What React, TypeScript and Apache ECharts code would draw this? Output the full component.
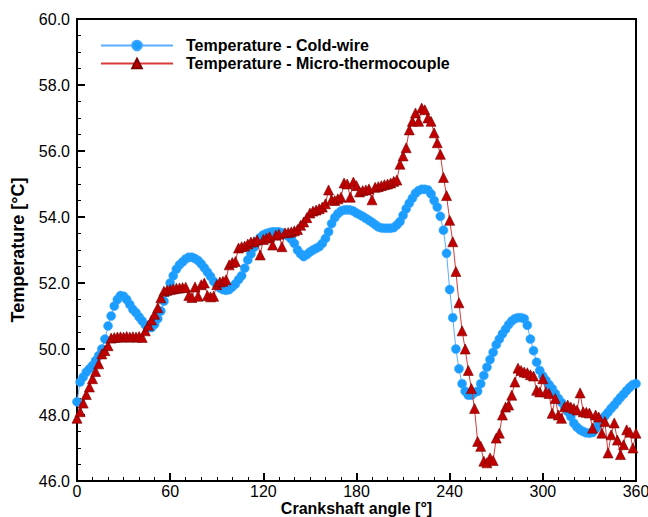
import React, { useEffect, useRef } from "react";
import * as echarts from "echarts";

const ANGLE_STEP = 2;
const xTicks = [0, 60, 120, 180, 240, 300, 360];
const yTicks = [46, 48, 50, 52, 54, 56, 58, 60];

const coldWire = [
  48.4, 49.0, 49.15, 49.3, 49.4, 49.5, 49.65, 49.8, 50.0, 50.3,
  50.7, 51.0, 51.3, 51.5, 51.62, 51.6, 51.5, 51.35, 51.2, 51.1,
  50.97, 50.85, 50.73, 50.65, 50.65, 50.75, 50.92, 51.15, 51.45, 51.72,
  52.0, 52.22, 52.42, 52.55, 52.64, 52.73, 52.78, 52.78, 52.74, 52.68,
  52.58, 52.46, 52.33, 52.2, 52.05, 51.95, 51.85, 51.8, 51.78, 51.8,
  51.88, 51.97, 52.1, 52.22, 52.45, 52.7, 52.88, 53.08, 53.25, 53.38,
  53.46, 53.5, 53.53, 53.55, 53.55, 53.55, 53.52, 53.47, 53.42, 53.33,
  53.2, 53.0, 52.88, 52.8, 52.86, 52.94, 53.0, 53.05, 53.1, 53.2,
  53.35, 53.55, 53.8, 53.98, 54.1, 54.18, 54.21, 54.22, 54.21, 54.18,
  54.12, 54.07, 54.02, 53.96, 53.9, 53.84, 53.77, 53.7, 53.67, 53.66,
  53.66, 53.66, 53.68, 53.76, 53.86, 54.05, 54.25, 54.42, 54.57, 54.72,
  54.8, 54.84, 54.84, 54.82, 54.7, 54.5, 54.3, 54.02, 53.6, 52.9,
  51.8, 50.95, 50.0, 49.4, 48.95, 48.72, 48.6, 48.6, 48.68, 48.72,
  48.95, 49.2, 49.45, 49.68, 49.9, 50.13, 50.3, 50.46, 50.6, 50.74,
  50.85, 50.92, 50.95, 50.95, 50.92, 50.72, 50.3, 49.95, 49.6, 49.35,
  49.18, 49.05, 48.92, 48.8, 48.65, 48.5, 48.38, 48.25, 48.1, 47.95,
  47.75, 47.63, 47.55, 47.5, 47.46, 47.45, 47.47, 47.58, 47.72, 47.86,
  47.97, 48.08, 48.2, 48.3, 48.42, 48.53, 48.63, 48.74, 48.84, 48.92,
  48.95,
];

const microTc = [
  47.9, 48.1, 48.36, 48.62, 48.85, 49.1, 49.32, 49.55, 49.85, 49.95,
  50.1, 50.33, 50.35, 50.36, 50.37, 50.36, 50.38, 50.36, 50.37, 50.36,
  50.38, 50.35, 50.55, 50.72, 50.88, 51.05, 51.25, 51.55, 51.75, 51.78,
  51.8, 51.82, 51.84, 51.85, 51.86, 51.87, 51.62, 51.56, 51.88, 51.6,
  51.95, 52.0, 51.62, 51.58, 51.6, 51.95, 52.03, 52.05, 52.1, 52.55,
  52.62, 52.65, 53.06, 53.1, 53.12, 53.18, 53.24, 53.25, 53.3, 52.85,
  53.32, 53.36, 53.4, 53.15, 53.45, 53.48, 53.1, 53.52, 53.53, 53.55,
  53.58, 53.62, 53.75, 53.85, 53.98, 54.12, 54.18, 54.21, 54.25, 54.3,
  54.4, 54.82, 54.52, 54.5, 54.55, 54.6, 55.03, 55.0, 54.6, 55.06,
  54.95, 54.76, 54.8, 54.82, 54.85, 54.52, 54.9, 54.92, 54.95, 54.98,
  55.0, 55.03, 55.08, 55.12, 55.6, 55.85, 56.1, 56.64, 56.9, 57.15,
  56.9, 57.3, 57.25, 57.0, 56.9, 56.55, 56.25, 55.9, 55.2, 54.65,
  53.9, 53.25, 52.35, 51.4, 50.55, 50.0, 49.35, 48.8, 48.2, 47.2,
  47.05, 46.6, 46.55, 46.7, 46.62, 47.3, 47.45, 48.0, 48.24, 48.3,
  48.6, 49.0, 49.42, 49.35, 49.3, 49.28, 49.22, 49.18, 48.75, 48.7,
  49.1, 48.7, 48.65, 48.05, 48.5, 48.0, 47.9, 48.25, 48.3, 48.24,
  48.2, 48.15, 48.67, 48.1, 48.08, 48.06, 47.6, 48.0, 47.94, 47.45,
  47.8, 46.85, 47.4, 47.76, 47.24, 46.8, 47.1, 47.55, 47.48, 47.0,
  47.45,
];

const FONT = "'Liberation Sans', Arial, sans-serif";

export default function App() {
  const ref = useRef<HTMLDivElement>(null);
  useEffect(() => {
    if (!ref.current) return;
    const chart = echarts.init(ref.current, undefined, { renderer: "svg" });
    const blueData = coldWire.map((v, i) => [i * ANGLE_STEP, v]);
    const redData = microTc.map((v, i) => [i * ANGLE_STEP, v]);
    chart.setOption({
      animation: false,
      backgroundColor: "#fff",
      textStyle: { fontFamily: FONT },
      grid: {
        left: 77,
        right: 12,
        top: 19,
        bottom: 36,
        show: true,
        borderColor: "#000",
        borderWidth: 2,
        backgroundColor: "transparent",
        outerBoundsMode: "none",
        containLabel: false,
      },
      legend: {
        left: 95,
        top: 32,
        orient: "vertical",
        itemWidth: 72,
        itemHeight: 12,
        itemGap: 1,
        data: ["Temperature - Cold-wire", "Temperature - Micro-thermocouple"],
        textStyle: {
          fontFamily: FONT,
          fontSize: 16,
          lineHeight: 17,
          fontWeight: "bold",
          color: "#000",
          padding: [0, 0, 0, 8],
        },
      },
      xAxis: {
        type: "value",
        min: 0,
        max: 360,
        interval: 60,
        name: "Crankshaft angle [°]",
        nameLocation: "middle",
        nameGap: 19,
        nameMoveOverlap: false,
        nameTextStyle: { fontFamily: FONT, fontSize: 16, lineHeight: 16, fontWeight: "bold", color: "#000" },
        axisLine: { show: true, lineStyle: { color: "#000", width: 2 } },
        axisTick: { show: true, inside: true, length: 8, lineStyle: { color: "#000", width: 2 } },
        minorTick: { show: true, splitNumber: 6, length: 4, lineStyle: { color: "#000", width: 1 } },
        axisLabel: {
          color: "#000",
          fontSize: 16,
          lineHeight: 16,
          fontFamily: FONT,
          margin: 2,
          formatter: (v: number) => (xTicks.includes(v) ? String(v) : ""),
        },
        splitLine: { show: false },
      },
      yAxis: {
        type: "value",
        min: 46,
        max: 60,
        interval: 2,
        name: "Temperature [°C]",
        nameLocation: "middle",
        nameGap: 50,
        nameMoveOverlap: false,
        nameTextStyle: { fontFamily: FONT, fontSize: 18, fontWeight: "bold", color: "#000" },
        axisLine: { show: true, lineStyle: { color: "#000", width: 2 } },
        axisTick: { show: true, inside: true, length: 8, lineStyle: { color: "#000", width: 2 } },
        minorTick: { show: true, splitNumber: 4, length: 4, lineStyle: { color: "#000", width: 1 } },
        axisLabel: {
          color: "#000",
          fontSize: 16,
          fontFamily: FONT,
          margin: 7,
          formatter: (v: number) => (yTicks.includes(v) ? v.toFixed(1) : ""),
        },
        splitLine: { show: false },
      },
      series: [
        {
          name: "Temperature - Cold-wire",
          type: "line",
          data: blueData,
          symbol: "circle",
          symbolSize: 9,
          showAllSymbol: true,
          lineStyle: { color: "#5aaeff", width: 1 },
          itemStyle: { color: "#1a9dff", borderColor: "#3aa6ff", borderWidth: 0.5 },
          z: 2,
        },
        {
          name: "Temperature - Micro-thermocouple",
          type: "line",
          data: redData,
          symbol: "triangle",
          symbolSize: 10,
          showAllSymbol: true,
          lineStyle: { color: "#d83a3a", width: 1 },
          itemStyle: { color: "#c00000", borderColor: "#7a0000", borderWidth: 0.6 },
          z: 3,
        },
      ],
    });
    return () => chart.dispose();
  }, []);
  return <div ref={ref} style={{ width: 648, height: 517, position: "absolute", left: 0, top: 0 }} />;
}
